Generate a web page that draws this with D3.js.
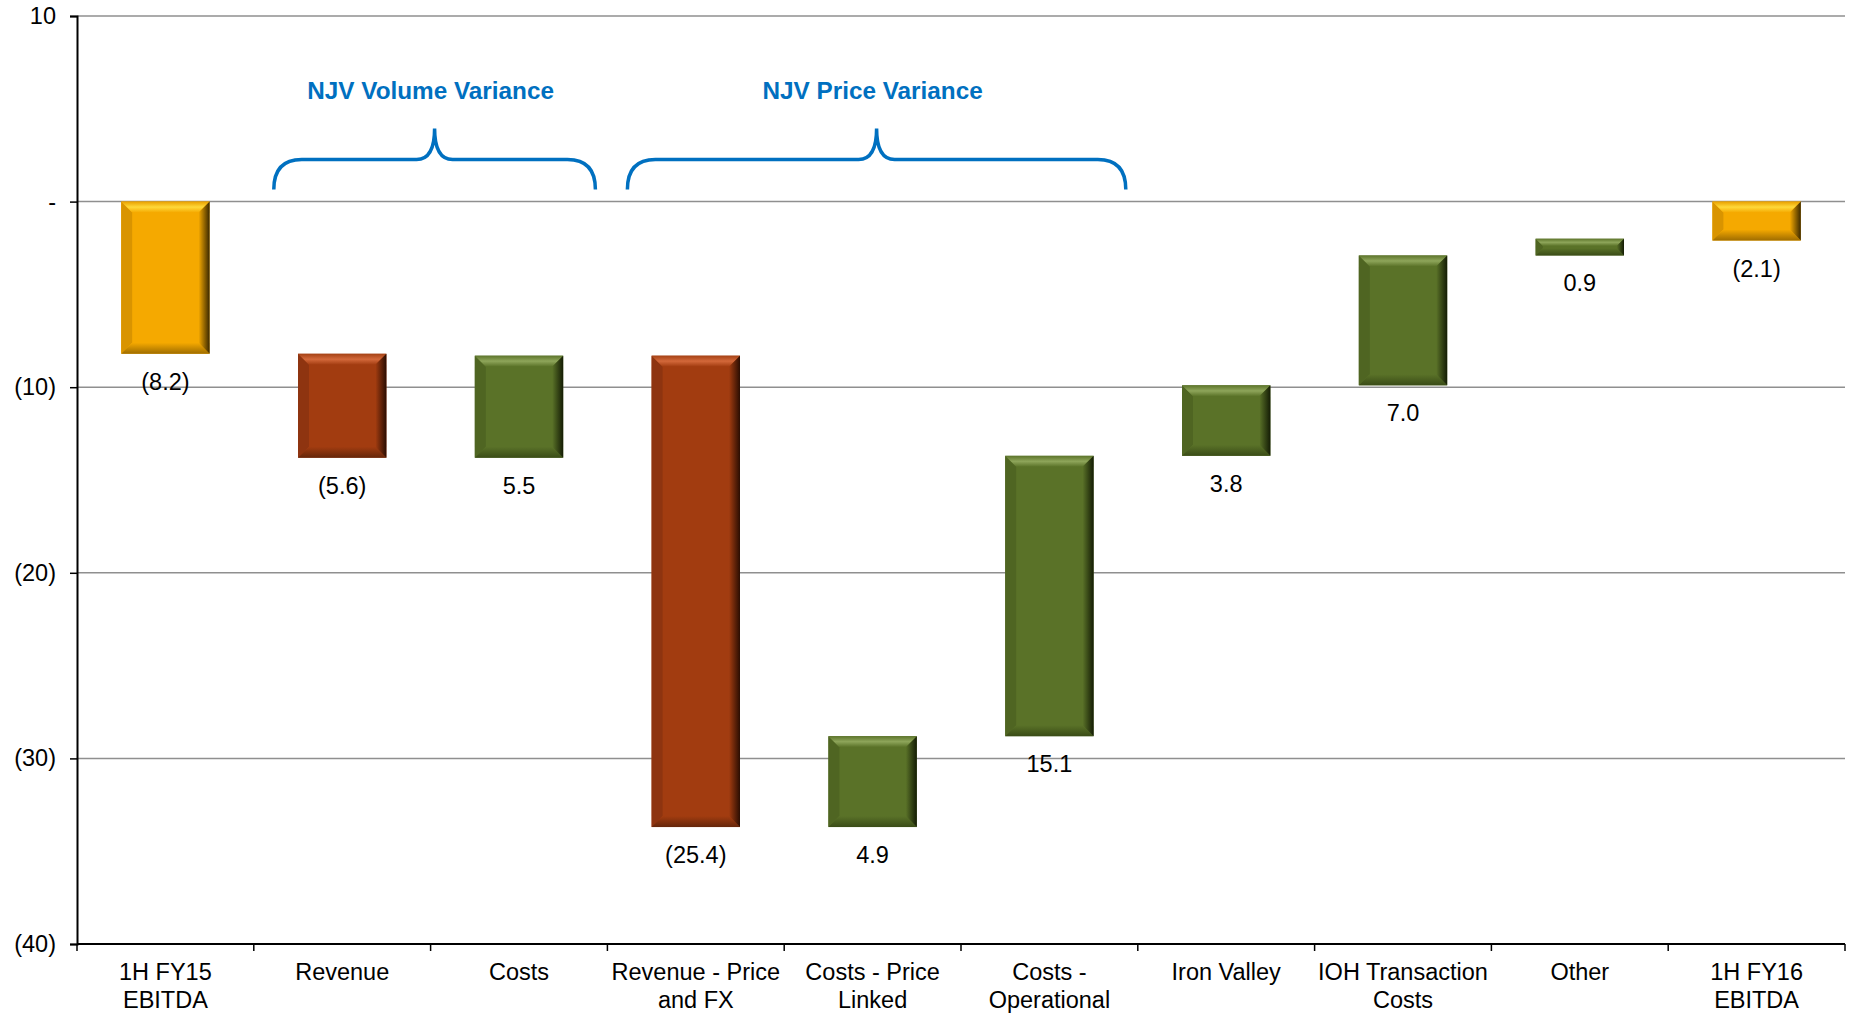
<!DOCTYPE html>
<html>
<head>
<meta charset="utf-8">
<script src="https://cdn.jsdelivr.net/npm/d3@7"></script>
<style>
  body { margin: 0; background: #fff; }
  svg { display: block; font-family: "Liberation Sans", Arial, sans-serif; }
</style>
</head>
<body>
<div id="chart"></div>
<script>
// chart data
const categories = ["1H FY15 EBITDA", "Revenue", "Costs", "Revenue - Price and FX", "Costs - Price Linked",
  "Costs - Operational", "Iron Valley", "IOH Transaction Costs", "Other", "1H FY16 EBITDA"];
const tickLabels = [["1H FY15", "EBITDA"], ["Revenue"], ["Costs"], ["Revenue - Price", "and FX"], ["Costs - Price", "Linked"],
  ["Costs -", "Operational"], ["Iron Valley"], ["IOH Transaction", "Costs"], ["Other"], ["1H FY16", "EBITDA"]];
const values = [-8.2, -5.6, 5.5, -25.4, 4.9, 15.1, 3.8, 7.0, 0.9, -2.1];
const isTotal = [true, false, false, false, false, false, false, false, false, true];
const yTicks = [10, 0, -10, -20, -30, -40];
const groups = [
  { label: "NJV Volume Variance", first: 1, last: 2 },
  { label: "NJV Price Variance", first: 3, last: 5 }
];

const width = 1856, height = 1014;
const margin = { top: 16, right: 11, bottom: 70, left: 77 };
const fontSize = 23.5;

const svg = d3.select("#chart").append("svg")
  .attr("width", width)
  .attr("height", height);

const x = d3.scaleBand()
  .domain(categories)
  .range([margin.left, width - margin.right])
  .paddingInner(0.5)
  .paddingOuter(0.25);

const y = d3.scaleLinear()
  .domain([-40, 10])
  .range([height - margin.bottom, margin.top]);

// waterfall steps
let running = 0;
const bars = categories.map((c, i) => {
  let start, end;
  if (isTotal[i]) { start = 0; end = values[i]; running = values[i]; }
  else { start = running; end = running + values[i]; running = end; }
  const kind = isTotal[i] ? "total" : (values[i] < 0 ? "neg" : "pos");
  return { cat: c, value: values[i], start, end, kind };
});

const palette = {
  total: { body: "#f5a900", top: "#ffd93a", topEdge: "#e9a000", bottom: "#9e6c00", left: "#d99400", right: "#3a2800" },
  neg:   { body: "#a23c10", top: "#d3683a", topEdge: "#a54215", bottom: "#65260a", left: "#8e3410", right: "#2a0d02" },
  pos:   { body: "#5a7228", top: "#8ea55a", topEdge: "#5d752b", bottom: "#3a4c17", left: "#4f6522", right: "#141c05" }
};

// gradients
const defs = svg.append("defs");
Object.entries(palette).forEach(([k, p]) => {
  const gt = defs.append("linearGradient").attr("id", "top-" + k).attr("x1", 0).attr("y1", 0).attr("x2", 0).attr("y2", 1);
  gt.append("stop").attr("offset", "0%").attr("stop-color", p.topEdge);
  gt.append("stop").attr("offset", "50%").attr("stop-color", p.top);
  gt.append("stop").attr("offset", "100%").attr("stop-color", p.body);
  const gr = defs.append("linearGradient").attr("id", "right-" + k).attr("x1", 0).attr("y1", 0).attr("x2", 1).attr("y2", 0);
  gr.append("stop").attr("offset", "0%").attr("stop-color", p.body);
  gr.append("stop").attr("offset", "100%").attr("stop-color", p.right);
  const gb = defs.append("linearGradient").attr("id", "bottom-" + k).attr("x1", 0).attr("y1", 0).attr("x2", 0).attr("y2", 1);
  gb.append("stop").attr("offset", "0%").attr("stop-color", p.body);
  gb.append("stop").attr("offset", "100%").attr("stop-color", p.bottom);
});

// gridlines
svg.append("g")
  .selectAll("line")
  .data(yTicks.filter(t => t > -40))
  .join("line")
  .attr("x1", margin.left)
  .attr("x2", width - margin.right)
  .attr("y1", d => y(d))
  .attr("y2", d => y(d))
  .attr("stroke", "#8f8f8f")
  .attr("stroke-width", 1.5);

// y axis
const fmtTick = d => d === 0 ? "-" : (d < 0 ? `(${Math.abs(d)})` : `${d}`);
const yAxis = svg.append("g")
  .attr("transform", `translate(${margin.left},0)`)
  .call(d3.axisLeft(y).tickValues(yTicks).tickFormat(fmtTick).tickSize(7).tickPadding(14));
yAxis.select(".domain").attr("stroke", "#000").attr("stroke-width", 2);
yAxis.selectAll(".tick line").attr("stroke", "#000").attr("stroke-width", 1.5);
yAxis.selectAll(".tick text")
  .attr("font-size", fontSize)
  .attr("fill", "#000")
  .attr("font-family", "Liberation Sans, Arial, sans-serif");

// x axis with boundary ticks
const xAxisG = svg.append("g");
xAxisG.append("line")
  .attr("x1", margin.left).attr("x2", width - margin.right)
  .attr("y1", y(-40)).attr("y2", y(-40))
  .attr("stroke", "#000").attr("stroke-width", 2);
const bounds = categories.map(c => x(c) - x.step() * x.paddingInner() / 2)
  .map((b, i) => i === 0 ? margin.left : b);
bounds.push(width - margin.right);
xAxisG.selectAll(".bt")
  .data(bounds)
  .join("line")
  .attr("class", "bt")
  .attr("x1", d => d).attr("x2", d => d)
  .attr("y1", y(-40)).attr("y2", y(-40) + 7)
  .attr("stroke", "#000").attr("stroke-width", 1.5);

xAxisG.selectAll(".cl")
  .data(categories)
  .join("text")
  .attr("class", "cl")
  .attr("x", d => x(d) + x.bandwidth() / 2)
  .attr("y", y(-40) + 36)
  .attr("text-anchor", "middle")
  .attr("font-size", fontSize)
  .attr("fill", "#000")
  .each(function (d, i) {
    d3.select(this).selectAll("tspan")
      .data(tickLabels[i])
      .join("tspan")
      .attr("x", x(d) + x.bandwidth() / 2)
      .attr("dy", (t, j) => j === 0 ? 0 : 28)
      .text(t => t);
  });

// bars with bevel
const barG = svg.append("g");
bars.forEach(d => {
  const x0 = x(d.cat), x1 = x0 + x.bandwidth();
  const yT = Math.min(y(d.start), y(d.end)), yB = Math.max(y(d.start), y(d.end));
  const h = yB - yT;
  const b = Math.min(11, h / 2.3);
  const p = palette[d.kind];
  const g = barG.append("g");
  g.append("rect").attr("x", x0).attr("y", yT).attr("width", x1 - x0).attr("height", h).attr("fill", p.body);
  g.append("polygon")
    .attr("points", [[x0, yT], [x0 + b, yT + b], [x0 + b, yB - b], [x0, yB]].join(" "))
    .attr("fill", p.left);
  g.append("polygon")
    .attr("points", [[x0, yB], [x0 + b, yB - b], [x1 - b, yB - b], [x1, yB]].join(" "))
    .attr("fill", `url(#bottom-${d.kind})`);
  g.append("polygon")
    .attr("points", [[x0, yT], [x1, yT], [x1 - b, yT + b], [x0 + b, yT + b]].join(" "))
    .attr("fill", `url(#top-${d.kind})`);
  g.append("polygon")
    .attr("points", [[x1, yT], [x1, yB], [x1 - b, yB - b], [x1 - b, yT + b]].join(" "))
    .attr("fill", `url(#right-${d.kind})`);

  g.append("text")
    .attr("x", (x0 + x1) / 2)
    .attr("y", yB + 28)
    .attr("dominant-baseline", "central")
    .attr("text-anchor", "middle")
    .attr("font-size", fontSize)
    .attr("fill", "#000")
    .text(d.value < 0 ? `(${d3.format(".1f")(-d.value)})` : d3.format(".1f")(d.value));
});

// group braces
const y0 = y(0);
const braceG = svg.append("g");
groups.forEach(gr => {
  const xs = x(categories[gr.first]) - x.step() * x.paddingInner() / 2 + 20;
  const xe = x(categories[gr.last]) + x.bandwidth() + x.step() * x.paddingInner() / 2 - 12;
  const cx = (xs + xe) / 2;
  const yb = y0 - 12, yh = y0 - 42, yp = y0 - 73;
  const r = 28, r2 = 18;
  const path = `M${xs},${yb} Q${xs},${yh} ${xs + r},${yh} L${cx - r2},${yh} Q${cx},${yh} ${cx},${yp}` +
    ` Q${cx},${yh} ${cx + r2},${yh} L${xe - r},${yh} Q${xe},${yh} ${xe},${yb}`;
  braceG.append("path")
    .attr("d", path)
    .attr("fill", "none")
    .attr("stroke", "#0070c0")
    .attr("stroke-width", 3.5);
  braceG.append("text")
    .attr("x", cx - 4)
    .attr("y", y0 - 111)
    .attr("dominant-baseline", "central")
    .attr("text-anchor", "middle")
    .attr("font-size", 24.3)
    .attr("font-weight", "bold")
    .attr("fill", "#0070c0")
    .text(gr.label);
});
</script>
</body>
</html>
